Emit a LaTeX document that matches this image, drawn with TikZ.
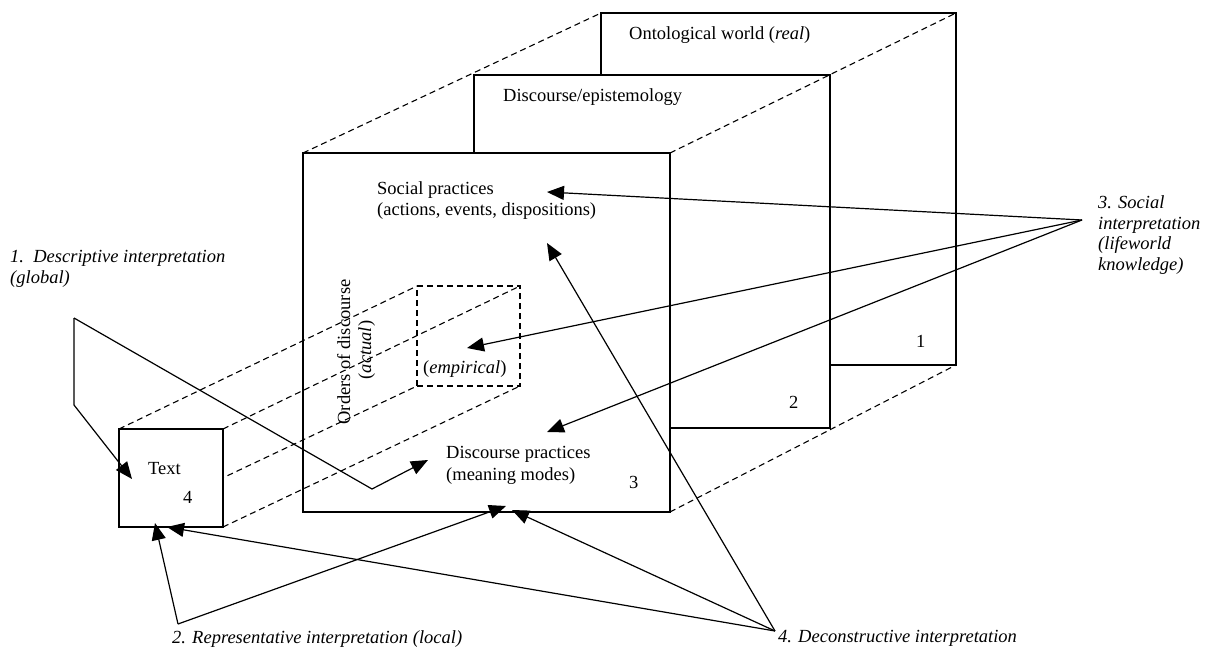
\documentclass[tikz,border=0pt]{standalone}
\usepackage{fontspec}
\setmainfont{Liberation Serif}
\usetikzlibrary{arrows.meta}
\begin{document}
\begin{tikzpicture}[x=1pt,y=-1pt,
  box/.style={draw,line width=1.2pt,fill=white,inner sep=0pt,outer sep=0pt,anchor=north west},
  persp/.style={line width=1.1pt,dash pattern=on 6pt off 4pt},
  arr/.style={line width=1.2pt,-{Triangle[length=17pt,width=14pt]}},
  lbl/.style={font=\fontsize{18.5}{21}\selectfont,inner sep=0pt,anchor=base west},
  ilbl/.style={font=\fontsize{18.5}{21}\selectfont\itshape,inner sep=0pt,anchor=base west},
  rlbl/.style={font=\fontsize{18.5}{21}\selectfont,inner sep=0pt,anchor=base,rotate=90}]
\useasboundingbox (0,0) rectangle (1210,647);
% planes
\node[box,minimum width=355pt,minimum height=352pt] (b1) at (601,13) {};
\node[box,minimum width=356pt,minimum height=353pt] (b2) at (474,75) {};
\node[box,minimum width=367pt,minimum height=359pt] (b3) at (303,153) {};
% perspective lines
\draw[persp] (b3.north west) -- (b1.north west);
\draw[persp] (b3.north east) -- (b1.north east);
\draw[persp] (b3.south east) -- (b1.south east);
% empirical box and text box
\node[box,fill=none,dash pattern=on 6pt off 4pt,minimum width=103pt,minimum height=100pt] (e) at (417,286) {};
\coordinate (tnw) at (119,429);
\coordinate (tse) at (223,527);
\draw[persp] (tnw) -- (e.north west);
\draw[persp] (tnw -| tse) -- (e.north east);
\draw[persp] (tnw |- tse) -- (e.south west);
\draw[persp] (tse) -- (e.south east);
\node[box,minimum width=104pt,minimum height=98pt] (t) at (tnw) {};
% texts
\node[lbl] (ont) at (629,40) {Ontological world (\textit{real})};
\node[lbl] (epi) at (503,102) {Discourse/epistemology};
\node[lbl] (n1) at (916,347) {1};
\node[lbl] (n2) at (789,408) {2};
\node[lbl] (sp1) at (377,195) {Social practices};
\node[lbl] (sp2) at (377,215) {(actions, events, dispositions)};
\node[lbl] (dp1) at (446,458) {Discourse practices};
\node[lbl] (dp2) at (446,480) {(meaning modes)};
\node[lbl] (n3) at (629,488) {3};
\node[lbl] (emp) at (423,373) {(\textit{empirical})};
\node[rlbl] (ord) at (350,352) {Orders of discourse};
\node[rlbl] (act) at (371,350) {(\textit{actual})};
\node[lbl] (txt) at (148,474) {Text};
\node[lbl] (n4) at (183,503) {4};
\node[ilbl] (l1a) at (10,262) {1.\ \ Descriptive interpretation};
\node[ilbl] (l1b) at (10,283) {(global)};
\node[ilbl] (l3a) at (1098,209) {3. Social};
\node[ilbl] (l3b) at (1098,229.5) {interpretation};
\node[ilbl] (l3c) at (1098,250) {(lifeworld};
\node[ilbl] (l3d) at (1098,270.5) {knowledge)};
\node[ilbl] (l2) at (172,643) {2. Representative interpretation (local)};
\node[ilbl] (l4) at (778,642) {4. Deconstructive interpretation};
% connector points
\coordinate (o1) at (74,318);
\coordinate (o1a) at (74,405);
\coordinate (o1b) at (372,489);
\coordinate (o2) at (178,624);
\coordinate (o3) at (1082,220);
\coordinate (o4) at (775,631);
\coordinate (tipT1) at (132,479);
\coordinate (tipT2) at (155,523);
\coordinate (tipT4) at (167,527);
\coordinate (tipDP1) at (428,460);
\coordinate (tipDP3) at (547,432);
\coordinate (tipB2) at (506,506);
\coordinate (tipB4) at (512,510);
\coordinate (tipSP3) at (547,192);
\coordinate (tipSP4) at (547,243);
\coordinate (tipE) at (467,348);
% arrows
\draw[arr] (o1) -- (o1a) -- (tipT1);
\draw[arr] (o1) -- (o1b) -- (tipDP1);
\draw[arr] (o2) -- (tipT2);
\draw[arr] (o2) -- (tipB2);
\draw[arr] (o3) -- (tipSP3);
\draw[arr] (o3) -- (tipE);
\draw[arr] (o3) -- (tipDP3);
\draw[arr] (o4) -- (tipT4);
\draw[arr] (o4) -- (tipB4);
\draw[arr] (o4) -- (tipSP4);
\end{tikzpicture}
\end{document}
